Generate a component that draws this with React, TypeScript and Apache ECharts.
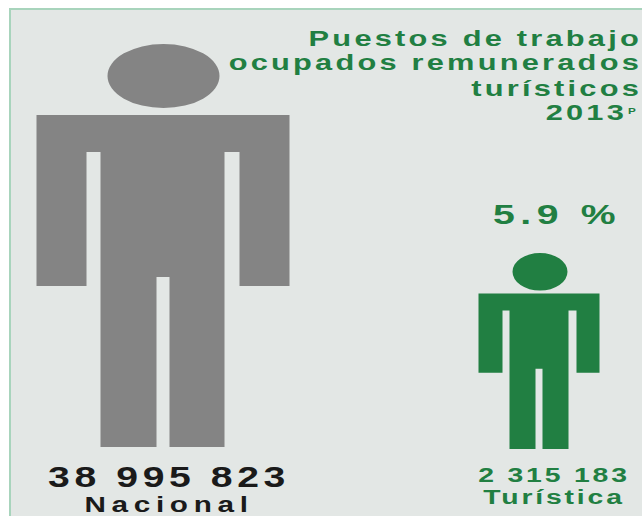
import React, { useEffect, useRef } from "react";
import * as echarts from "echarts";

const categories = ["Nacional", "Turística"];
const jobs = [38995823, 2315183];
const jobLabels = ["38 995 823", "2 315 183"];
const share = "5.9 %";
const titleLines = ["Puestos de trabajo", "ocupados remunerados", "turísticos", "2013"];

const GRAY = "#848484";
const GREEN = "#217f42";
const FONT = '"Liberation Sans", Arial, sans-serif';

const figures = [
  {
    d: "M108 76A56 32 0 1 1 220 76A56 32 0 1 1 108 76ZM37 115H290V286H240V152H225V447H170V277H157V447H101V152H87V286H37Z",
    width: 253,
    shift: 0,
    color: GRAY,
  },
  {
    d: "M513 270A27.5 19 0 1 1 568 270A27.5 19 0 1 1 513 270ZM479 292H600V372H577V309H569V449H543V368H536V449H510V309H503V372H479Z",
    width: 121,
    shift: 2,
    color: GREEN,
  },
];

const axisMin = 159600;

export default function App() {
  const ref = useRef<HTMLDivElement>(null);
  useEffect(() => {
    const el = ref.current!;
    const chart = echarts.init(el, undefined, { renderer: "svg" });
    const tracking: Record<string, number> = {};
    const txt = (text: string, x: number, y: number, fontSize: number, fill: string, track: number, scaleX: number, align = "center") => {
      tracking[text] = track;
      return {
        type: "text",
        x,
        y,
        scaleX,
        silent: true,
        style: { text, fontSize, fontWeight: "bold", fontFamily: FONT, fill, textAlign: align, textVerticalAlign: "bottom" },
      };
    };
    chart.setOption({
      animation: false,
      backgroundColor: "#ffffff",
      grid: { left: -25, width: 752, top: 44, bottom: 69, outerBoundsMode: "none" },
      xAxis: { type: "category", data: categories, show: false },
      yAxis: { type: "log", min: axisMin, max: jobs[0], show: false },
      series: [
        {
          type: "custom",
          z: 5,
          clip: false,
          encode: { x: 0, y: 1 },
          data: categories.map((c, i) => [c, jobs[i]]),
          renderItem: (params: any, api: any) => {
            const f = figures[params.dataIndex];
            const top = api.coord([api.value(0), api.value(1)]);
            const base = api.coord([api.value(0), axisMin]);
            return {
              type: "path",
              shape: {
                pathData: f.d,
                layout: "cover",
                x: top[0] - f.width / 2,
                y: top[1] + f.shift,
                width: f.width,
                height: base[1] - top[1],
              },
              style: { fill: f.color },
            };
          },
        },
      ],
      graphic: [
        {
          type: "rect",
          z: 0,
          silent: true,
          shape: { x: 10, y: 9, width: 640, height: 520 },
          style: { fill: "#e3e7e5", stroke: "#a8d4bc", lineWidth: 2 },
        },
        txt(titleLines[0], 642, 50, 22, GREEN, 2.3, 1.4, "right"),
        txt(titleLines[1], 642, 74, 22, GREEN, 2.3, 1.4, "right"),
        txt(titleLines[2], 642, 100, 22, GREEN, 2.3, 1.4, "right"),
        txt(titleLines[3], 627, 124, 22, GREEN, 2.3, 1.4, "right"),
        txt("P", 628, 115, 9, GREEN, 0, 1.3, "left"),
        txt(share, 557, 228, 28, GREEN, 4, 1.4),
        txt(jobLabels[0], 169, 491, 29, "#1a1a1a", 3.4, 1.35),
        txt(categories[0], 169, 515.5, 22, "#1a1a1a", 4.2, 1.35),
        txt(jobLabels[1], 554, 485, 21, GREEN, 2.1, 1.35),
        txt(categories[1], 554, 507, 21, GREEN, 2.1, 1.35),
      ],
    });
    el.querySelectorAll("text").forEach((t) => {
      const s = tracking[t.textContent || ""];
      if (s) (t as SVGTextElement).style.letterSpacing = s + "px";
    });
    return () => chart.dispose();
  }, []);
  return <div ref={ref} style={{ position: "absolute", left: 0, top: 0, width: 642, height: 516, overflow: "hidden" }} />;
}
